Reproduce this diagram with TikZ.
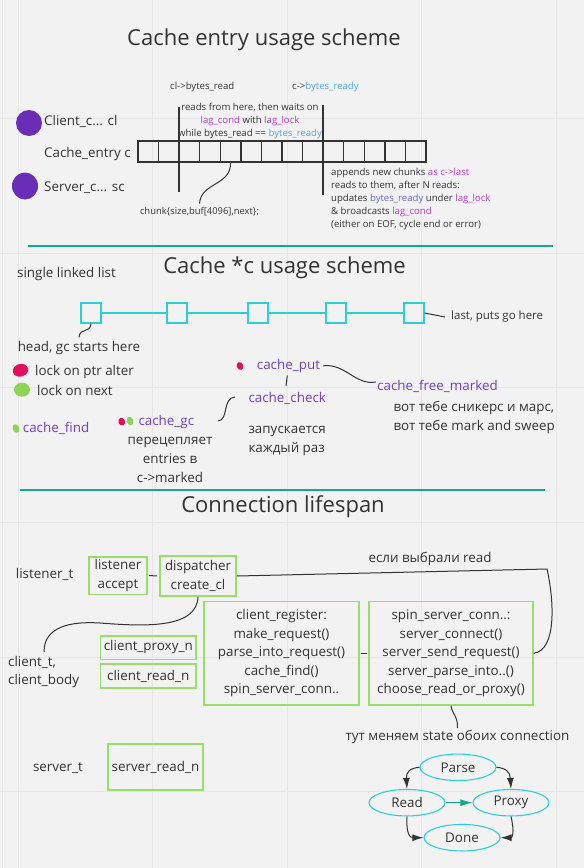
\documentclass[tikz,border=0pt]{standalone}
\usepackage{fontspec}
\setmainfont{Open Sans}
\usetikzlibrary{arrows.meta, positioning, shapes.geometric}
\definecolor{board}{HTML}{F2F2F2}
\definecolor{gridline}{HTML}{E6E6E6}
\definecolor{ink}{HTML}{333333}
\definecolor{mirogreen}{HTML}{9ADE6A}
\definecolor{mirocyan}{HTML}{2CCFD8}
\definecolor{miroteal}{HTML}{12AA88}
\definecolor{funcpurple}{HTML}{7040C0}
\definecolor{lagpurple}{HTML}{B63CC8}
\definecolor{readyblue}{HTML}{52A8EC}
\definecolor{readyslate}{HTML}{6468C8}
\definecolor{lockpink}{HTML}{E0105E}
\definecolor{lockgreen}{HTML}{8DD455}
\definecolor{connpurple}{HTML}{6A2DB8}

\begin{document}
\begin{tikzpicture}[
    x=1pt, y=-1pt,
    font=\fontsize{13.4}{18.5}\selectfont,
    text=ink,
    title/.style={font=\fontsize{22}{26}\selectfont, inner sep=0pt},
    note/.style={font=\fontsize{9.6}{12.9}\selectfont, inner sep=0pt},
    plain/.style={inner sep=0pt, anchor=base west},
    func/.style={inner sep=0pt, anchor=base west, text=funcpurple},
    chunk/.style={
      draw=ink,
      line width=1.3pt,
      minimum width=20.57pt,
      minimum height=21pt,
      inner sep=0pt
    },
    listitem/.style={draw=mirocyan, line width=1.3pt, minimum size=20pt, inner sep=0pt},
    stage/.style={
      draw=mirogreen,
      line width=1.6pt,
      align=center,
      inner sep=2pt
    },
    phase/.style={
      draw=mirocyan,
      ellipse,
      line width=1.1pt,
      minimum width=76pt,
      minimum height=26.5pt,
      inner sep=0pt
    },
    blob/.style={ellipse, inner sep=0pt},
    wire/.style={draw=ink, line width=1pt},
    pointer/.style={draw=ink, line width=2pt},
    link/.style={draw=mirocyan, line width=1.2pt},
    divider/.style={draw=miroteal, line width=2pt},
    move/.style={-{Latex[length=11pt,width=7pt]}, draw=ink, line width=1pt}
  ]

  % Board and grid
  \fill[board] (0,0) rectangle (584,868);
  \useasboundingbox (0,0) rectangle (584,868);
  \foreach \gx in {2,18,152.5,287,421.5,556}
    \draw[gridline, line width=1pt] (\gx,0) -- (\gx,868);
  \foreach \gy in {118,253,387,522,657,791}
    \draw[gridline, line width=1pt] (0,\gy) -- (584,\gy);

  % Cache entry usage scheme
  \node[title] (titleentry) at (264,40) {Cache entry usage scheme};
  \node[note, anchor=base west] (readlbl) at (170,89) {cl->bytes\_read};
  \node[note, anchor=base west] (readylbl) at (292,89) {c->{\color{readyblue}bytes\_ready}};

  \node[blob, fill=connpurple, minimum width=26pt, minimum height=26pt] (clientdot) at (29,123) {};
  \node[blob, fill=connpurple, minimum width=26pt, minimum height=27pt] (serverdot) at (25,186) {};
  \node[plain] (clientlbl) at (44,125.6) {Client\_c... cl};
  \node[plain] (entrylbl) at (44,157) {Cache\_entry c};
  \node[plain] (serverlbl) at (44,191.7) {Server\_c... sc};

  \foreach \i in {0,...,13}
    \node[chunk] (ch\i) at ({148.3+20.57*\i},151.5) {};

  \coordinate (readtop) at (179.3,107);
  \coordinate (readbot) at (179.3,192);
  \coordinate (readytop) at (323.3,105);
  \coordinate (readybot) at (323.3,195);
  \draw[pointer] (readtop) -- (readbot);
  \draw[pointer] (readytop) -- (readybot);

  \node[note, align=center] (waitnote) at (250,121) {reads from here, then waits on\\
    {\color{lagpurple}lag\_cond} with {\color{lagpurple}lag\_lock}\\
    while bytes\_read == {\color{readyblue}bytes\_ready}};
  \node[note, align=left, anchor=west] (appendnote) at (331,199.3) {appends new chunks {\color{lagpurple}as c->last}\\
    reads to them, after N reads:\\
    updates {\color{readyslate}bytes\_ready} under {\color{lagpurple}lag\_lock}\\
    \& broadcasts {\color{lagpurple}lag\_cond}\\
    (either on EOF, cycle end or error)};

  \node[note, font=\fontsize{9.4}{12}\selectfont, anchor=base] (chunklbl) at (199.5,214) {chunk\{size,buf[4096],next\};};
  \draw[wire] (ch4.south) .. controls (231,186) and (201,182) .. ([yshift=3pt]chunklbl.north);

  \draw[divider] (28,246) -- (553,246);

  % Cache *c usage scheme
  \node[title] (titlecache) at (284.5,267.5) {Cache *c usage scheme};
  \node[plain] (listlbl) at (17,277.3) {single linked list};

  \foreach \name/\px in {li1/91, li2/177, li3/258, li4/336, li5/414}
    \node[listitem] (\name) at (\px,313) {};
  \foreach \a/\b in {li1/li2, li2/li3, li3/li4, li4/li5}
    \draw[link] (\a) -- (\b);

  \node[plain, font=\fontsize{11.5}{14}\selectfont] (lastlbl) at (451,319) {last, puts go here};
  \draw[wire] (li5.east) -- ([xshift=-6pt,yshift=-1pt]lastlbl.west);

  \node[plain, anchor=base] (headlbl) at (79,351.7) {head, gc starts here};
  \draw[wire] (li1.south) .. controls (90,334) and (80,327) .. ([yshift=4pt]headlbl.north);

  \node[blob, fill=lockpink, minimum width=15.6pt, minimum height=12.6pt, rotate=15] (ptrdot) at (20.5,370.3) {};
  \node[blob, fill=lockgreen, minimum width=16pt, minimum height=14pt] (nextdot) at (22,389.7) {};
  \node[plain] (ptrlbl) at (35,375) {lock on ptr alter};
  \node[plain] (nextlbl) at (37,395) {lock on next};

  \node[blob, fill=lockgreen, minimum width=6.5pt, minimum height=9pt, rotate=20] (finddot) at (16,428.5) {};
  \node[func] (findlbl) at (22.7,432.7) {cache\_find};

  \node[blob, fill=lockpink, minimum width=6.5pt, minimum height=8pt, rotate=20] (gcdota) at (121.7,421.7) {};
  \node[blob, fill=lockgreen, minimum width=6.5pt, minimum height=9pt, rotate=20] (gcdotb) at (130,421) {};
  \node[func] (gclbl) at (138.3,425.3) {cache\_gc};
  \node[inner sep=0pt, align=center, font=\fontsize{13.4}{19.3}\selectfont] (gcnote) at (170,460) {перецепляет\\entries в\\c->marked};

  \node[blob, fill=lockpink, minimum width=6.5pt, minimum height=8pt, rotate=20] (putdot) at (240,366) {};
  \node[func] (putlbl) at (256.7,369.3) {cache\_put};
  \node[func] (checklbl) at (248.3,402.3) {cache\_check};
  \node[func] (freelbl) at (377,390) {cache\_free\_marked};

  \coordinate (gcjoin) at (218,421);
  \coordinate (checkjoin) at (235,397);
  \draw[wire] (gcjoin) .. controls (229,420) and (222,398) .. (checkjoin);
  \coordinate (puttick) at (287.3,375.5);
  \coordinate (checktick) at (286,386);
  \draw[wire] (puttick) -- (checktick);
  \draw[wire] ([xshift=3pt]putlbl.east) .. controls (345,363) and (356,386) .. ([xshift=-1pt,yshift=4pt]freelbl.west);

  \node[inner sep=0pt, align=left, anchor=west, font=\fontsize{13.4}{19}\selectfont] (snickers) at (393.3,417.3) {вот тебе сникерс и марс,\\вот тебе mark and sweep};
  \node[inner sep=0pt, align=left, anchor=west, font=\fontsize{13.4}{19}\selectfont] (everytime) at (248.3,441.3) {запускается\\каждый раз};

  \draw[divider] (20,490) -- (545,490);

  % Connection lifespan
  \node[title] (titleconn) at (283,507) {Connection lifespan};
  \node[plain] (listenerlbl) at (15.7,578.3) {listener\_t};

  \node[stage, minimum width=58pt, minimum height=37.6pt] (listener) at (118,575.5) {listener\\accept};
  \node[stage, minimum width=76pt, minimum height=40pt] (dispatcher) at (198,576) {dispatcher\\create\_cl};
  \draw[wire] ([xshift=1pt]listener.east) -- ([xshift=-2pt]dispatcher.west);

  \node[stage, minimum width=95.3pt, minimum height=23.6pt] (proxyn) at (148.3,647.5) {client\_proxy\_n};
  \node[stage, minimum width=95.3pt, minimum height=24pt] (readn) at (148.3,676) {client\_read\_n};

  \node[stage, minimum width=155pt, minimum height=103.3pt] (register) at (281.5,653.3) {client\_register:\\make\_request()\\parse\_into\_request()\\cache\_find()\\spin\_server\_conn..};
  \node[stage, minimum width=164pt, minimum height=103.3pt] (spin) at (451,653.3) {spin\_server\_conn..:\\server\_connect()\\server\_send\_request()\\server\_parse\_into..()\\choose\_read\_or\_proxy()};
  \draw[wire] ([xshift=1pt]register.east) -- ([xshift=-1pt]spin.west);

  \node[inner sep=0pt, align=left, anchor=west] (clientlbl2) at (8,672) {client\_t,\\client\_body};
  \draw[wire] (dispatcher.south) .. controls (197,630) and (140,626) .. (100,623)
    .. controls (52,620) and (44,638) .. ([yshift=4pt]clientlbl2.north west -| 44,0);

  \coordinate (readcorner) at (547,569);
  \node[plain] (readchoice) at (368.3,562.3) {если выбрали read};
  \draw[wire] (dispatcher.east) -- (readcorner) .. controls (554,600) and (557,650) .. (spin.east);

  \node[plain, anchor=base] (statelbl) at (457.5,740.5) {тут меняем state обоих connection};
  \draw[wire] (spin.south) .. controls (452,714) and (458,716) .. ([yshift=2pt]statelbl.north);

  \node[plain] (serverlbl2) at (32.8,771.7) {server\_t};
  \node[stage, minimum width=95pt, minimum height=46pt] (servern) at (155.5,767) {server\_read\_n};

  % State machine
  \node[phase] (parse) at (458,767.3) {Parse};
  \node[phase] (read) at (407,802.7) {Read};
  \node[phase] (proxy) at (511,802.7) {Proxy};
  \node[phase] (done) at (462,837.7) {Done};

  \draw[move] (parse.west) .. controls (410,768) and (406,772) .. (read.north);
  \draw[move] (parse.east) .. controls (506,768) and (510,772) .. (proxy.north);
  \draw[move, draw=miroteal, -{Latex[length=12pt,width=7pt]}, fill=miroteal] (read.east) -- (proxy.west);
  \draw[move] (read.south) .. controls (406,834) and (410,837.7) .. (done.west);
  \draw[move] (proxy.south) .. controls (515,834) and (512,837.7) .. (done.east);

\end{tikzpicture}
\end{document}
